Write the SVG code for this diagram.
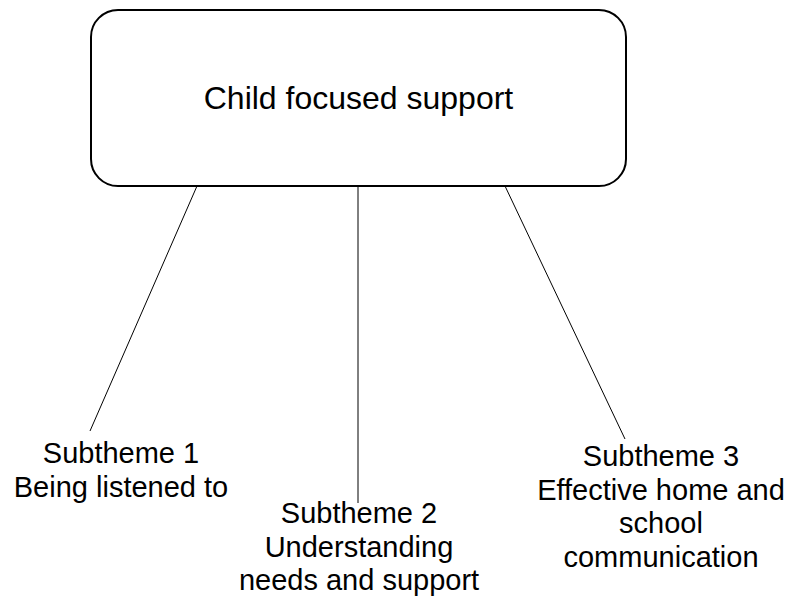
<svg xmlns="http://www.w3.org/2000/svg" width="787" height="598" viewBox="0 0 787 598">
  <style>
    .box { fill: #ffffff; stroke: #000000; stroke-width: 2; }
    .link { stroke: #000000; stroke-width: 1; fill: none; }
    .title { font-family: "Liberation Sans", Arial, sans-serif; font-size: 32px; fill: #000000; text-anchor: middle; }
    .label { font-family: "Liberation Sans", Arial, sans-serif; font-size: 29px; fill: #000000; text-anchor: middle; }
  </style>
  <rect width="787" height="598" fill="#ffffff"/>

  <!-- connectors from the main theme to each subtheme -->
  <g id="connectors">
    <line class="link" x1="197" y1="186" x2="90" y2="431"/>
    <line class="link" x1="358" y1="186" x2="358" y2="503"/>
    <line class="link" x1="505" y1="186" x2="625" y2="439"/>
  </g>

  <g id="main-theme">
    <rect class="box" x="91" y="10" width="535" height="176" rx="27" ry="27"/>
    <text class="title" x="358.5" y="109">Child focused support</text>
  </g>

  <g id="subtheme-1">
    <text class="label" x="121" y="463"><tspan x="121">Subtheme 1</tspan><tspan x="121" dy="34">Being listened to</tspan></text>
  </g>

  <g id="subtheme-2">
    <text class="label" x="359" y="523"><tspan x="359">Subtheme 2</tspan><tspan x="359" dy="33.5">Understanding</tspan><tspan x="359" dy="33.5">needs and support</tspan></text>
  </g>

  <g id="subtheme-3">
    <text class="label" x="661" y="466"><tspan x="661">Subtheme 3</tspan><tspan x="661" dy="33.6">Effective home and</tspan><tspan x="661" dy="33.6">school</tspan><tspan x="661" dy="33.6">communication</tspan></text>
  </g>
</svg>
